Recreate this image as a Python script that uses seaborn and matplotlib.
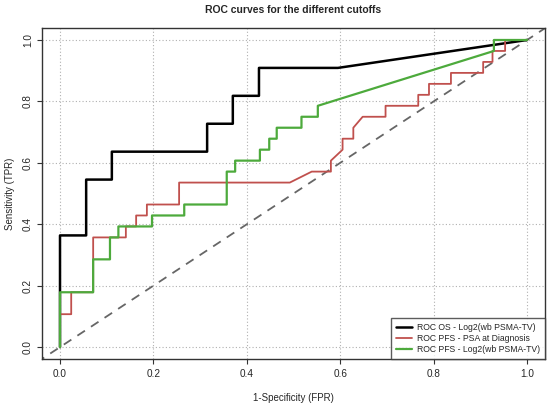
import numpy as np
import pandas as pd
import seaborn as sns
import matplotlib
matplotlib.use("Agg")
import matplotlib.pyplot as plt

# ROC OS - Log2(wb PSMA-TV)  (11 positives)
os_fpr = [0, 0, 0.056, 0.056, 0.111, 0.111, 0.315, 0.315, 0.370, 0.370, 0.426, 0.426, 0.595, 1.0]
os_tpr = [0, 4/11, 4/11, 6/11, 6/11, 7/11, 7/11, 8/11, 8/11, 9/11, 9/11, 10/11, 10/11, 1.0]

# ROC PFS - PSA at Diagnosis  (28 positives)
psa_fpr = [0, 0, 0.024, 0.024, 0.071, 0.071, 0.141, 0.141, 0.163, 0.163, 0.186, 0.186,
           0.255, 0.255, 0.492, 0.539, 0.580, 0.580, 0.605, 0.605, 0.628, 0.628, 0.648,
           0.697, 0.697, 0.767, 0.767, 0.790, 0.790, 0.837, 0.837, 0.906, 0.906, 0.926,
           0.926, 0.953, 0.953, 1.0]
psa_tpr = [0, 3, 3, 5, 5, 10, 10, 11, 11, 12, 12, 13,
           13, 15, 15, 16, 16, 17, 18, 19, 19, 20, 21,
           21, 22, 22, 23, 23, 24, 24, 25, 25, 26, 26,
           27, 27, 28, 28]
psa_tpr = [v / 28 for v in psa_tpr]

# ROC PFS - Log2(wb PSMA-TV)  (28 positives)
tv_fpr = [0, 0, 0.071, 0.071, 0.107, 0.107, 0.125, 0.125, 0.197, 0.197, 0.266, 0.266,
          0.357, 0.357, 0.375, 0.375, 0.428, 0.428, 0.448, 0.448, 0.464, 0.464,
          0.517, 0.517, 0.552, 0.552, 0.929, 0.929, 1.0]
tv_tpr = [0, 5, 5, 8, 8, 10, 10, 11, 11, 12, 12, 13,
          13, 16, 16, 17, 17, 18, 18, 19, 19, 20,
          20, 21, 21, 22, 27, 28, 28]
tv_tpr = [v / 28 for v in tv_tpr]

labels = ["ROC OS - Log2(wb PSMA-TV)", "ROC PFS - PSA at Diagnosis", "ROC PFS - Log2(wb PSMA-TV)"]
colors = ["black", "#c0504d", "#4daa3c"]
widths = [1.8, 1.3, 1.6]

df = pd.concat([
    pd.DataFrame({"fpr": os_fpr, "tpr": os_tpr, "curve": labels[0]}),
    pd.DataFrame({"fpr": psa_fpr, "tpr": psa_tpr, "curve": labels[1]}),
    pd.DataFrame({"fpr": tv_fpr, "tpr": tv_tpr, "curve": labels[2]}),
])

sns.set_style("white")
plt.rcParams["font.family"] = ["Liberation Sans", "DejaVu Sans"]

fig = plt.figure(figsize=(5.5, 4.03), dpi=100)
ax = fig.add_axes([0.0764, 0.109, 0.9146, 0.8215])

ticks = [0, 0.2, 0.4, 0.6, 0.8, 1.0]
for t in ticks:
    ax.axvline(t, color="#b0b0b0", lw=0.8, ls=(0, (1, 2)), zorder=0)
    ax.axhline(t, color="#b0b0b0", lw=0.8, ls=(0, (1, 2)), zorder=0)

for lab, col, lw in zip(labels, colors, widths):
    sns.lineplot(data=df[df["curve"] == lab], x="fpr", y="tpr", sort=False,
                 estimator=None, color=col, linewidth=lw, label=lab, ax=ax)

ax.plot([-0.05, 1.05], [-0.05, 1.05], color="#666666", lw=1.3, ls=(0, (5, 4)), zorder=1)

ax.set_xlim(-0.0385, 1.0385)
ax.set_ylim(-0.039, 1.039)
ax.set_xticks(ticks)
ax.set_yticks(ticks)
ax.set_xticklabels([f"{t:.1f}" for t in ticks], fontsize=7.2)
ax.set_yticklabels([f"{t:.1f}" for t in ticks], fontsize=7.2, rotation=90, va="center")
ax.tick_params(axis="both", direction="out", length=3.5, width=0.8, color="#333333",
               bottom=True, left=True)
ax.tick_params(axis="x", pad=4)
ax.tick_params(axis="y", pad=3)
for s in ax.spines.values():
    s.set_color("#333333")
    s.set_linewidth(1.0)

ax.set_xlabel("1-Specificity (FPR)", fontsize=7.0, labelpad=10)
ax.set_ylabel("Sensitivity (TPR)", fontsize=7.0, labelpad=6)
ax.set_title("ROC curves for the different cutoffs", fontsize=7.5, fontweight="bold", pad=11)

leg = ax.legend(loc="lower right", borderaxespad=0, fontsize=6.2, frameon=True,
                fancybox=False, handlelength=1.9, handletextpad=0.6,
                labelspacing=0.25, borderpad=0.55)
leg.get_frame().set_edgecolor("#333333")
leg.get_frame().set_linewidth(1.0)

fig.savefig("out.png", dpi=100)
